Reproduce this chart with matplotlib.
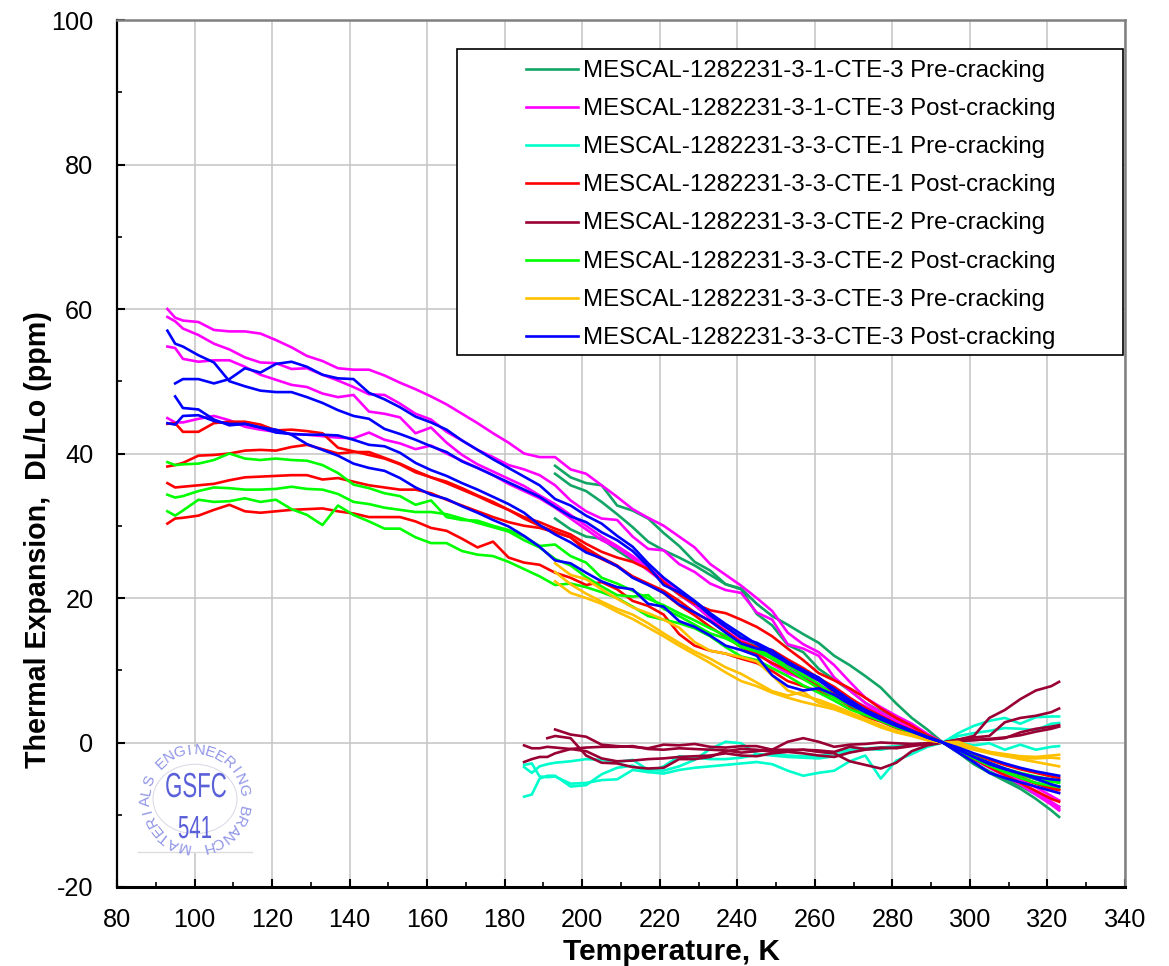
import numpy as np
import matplotlib
matplotlib.use('Agg')
import matplotlib.pyplot as plt
import matplotlib.patheffects as pe
from matplotlib.patches import Rectangle, Circle
from matplotlib.lines import Line2D
from matplotlib.transforms import Affine2D

plt.rcParams['font.family'] = ['Liberation Sans', 'DejaVu Sans']
plt.rcParams['axes.unicode_minus'] = False
nan = np.nan

# temperature grids, K
T_POST = [93, 95, 97, 101, 105, 109, 113, 117, 121, 125, 129,
          133, 137, 141, 145, 149, 153, 157, 161, 165, 169,
          173, 177, 181, 185, 189, 193, 197, 201, 205, 209,
          213, 217, 221, 225, 229, 233, 237, 241, 245, 249,
          253, 257, 261, 265, 269, 273, 277, 281, 285, 289,
          293, 297, 301, 305, 309, 313, 317, 321, 323]
T_PRE = [193, 197, 201, 205, 209,
         213, 217, 221, 225, 229, 233, 237, 241, 245, 249,
         253, 257, 261, 265, 269, 273, 277, 281, 285, 289,
         293, 297, 301, 305, 309, 313, 317, 321, 323]
T_LOW = [185, 187, 189, 191] + T_PRE

# MESCAL-1282231-3-1-CTE-3 pre-cracking
dkgreen_1 = [38.3, 36.7, 35.9, 35.6, 32.8,
             32.1, 31, 29, 27.2, 25, 23.8, 21.9, 21.2, 17.8, 16.2,
             13.5, 12.5, 10.2, 8.7, 7.2, 5.5, 4.3, 3.2, 2.1, 1,
             0, -1.3, -2.8, -4, -5, -6, -7.2, -8.4, -8.9]
dkgreen_2 = [37.2, 35.6, 34.8, 33.3, 31.6,
             29.8, 27.8, 26.6, 25.6, 24.5, 23.2, 21.9, 21.3, 19.2, 17.5,
             16.3, 15, 13.8, 12, 10.7, 9.2, 7.6, 5.4, 3.4, 1.8,
             0, -1.4, -3, -4.2, -5.3, -6.4, -7.8, -9.4, -10.3]
dkgreen_3 = [31, 29.5, 28.5, 28.2, 26.6,
             25.2, 24.2, 22, 20.5, 19, 17.2, 16, 14.6, 13.2, 11.8,
             10.4, 9.2, 7.9, 6.6, 5.4, 4.2, 3.2, 2.3, 1.5, 0.7,
             0, -1, -2, -2.9, -3.7, -4.4, -5.1, -5.8, -6.1]

# MESCAL-1282231-3-1-CTE-3 post-cracking
magenta_1 = [60.0, 58.8, 58.4, 58.2, 57.1, 56.9, 56.9, 56.6, 55.7, 54.7, 53.5,
             52.8, 51.8, 51.6, 51.6, 50.8, 49.8, 48.9, 47.9, 46.8, 45.5,
             44.2, 42.8, 41.5, 40.0, 39.5, 39.5, 37.8, 37.2, 35.6, 34.0,
             32.3, 31.1, 30.0, 28.5, 27.0, 24.7, 23.2, 21.7, 20.0, 18.2,
             15.2, 13.6, 12.5, 10.7, 8.4, 6.2, 4.9, 3.7, 2.6, 1.2,
             0, -0.9, -2.0, -3.0, -4.2, -5.5, -7.0, -8.4, -9.2]
magenta_2 = [58.9, 58.3, 57.3, 56.4, 55.2, 54.4, 53.3, 52.6, 52.5, 51.7, 51.8,
             50.9, 50.1, 49.2, 48.2, 48.1, 46.9, 45.5, 44.7, 43.0, 41.8,
             40.5, 39.5, 38.4, 37.8, 37.0, 35.6, 33.5, 32.0, 31.0, 30.8,
             28.5, 26.8, 26.6, 24.7, 23.6, 22.0, 21.1, 20.7, 18.0, 17.0,
             13.6, 13.0, 12.0, 9.0, 7.2, 5.5, 4.2, 3.0, 2.0, 0.9,
             0, -1.1, -2.3, -3.5, -4.6, -5.8, -7.2, -8.6, -9.4]
magenta_3 = [54.8, 54.6, 53.1, 52.7, 52.9, 52.9, 52.0, 50.9, 50.2, 49.5, 49.2,
             48.3, 47.8, 48.1, 45.8, 45.5, 45.0, 42.8, 43.6, 41.5, 39.8,
             38.5, 37.5, 36.5, 35.5, 34.2, 33.0, 31.5, 30.0, 28.5, 27.2,
             25.8, 24.2, 22.5, 21.0, 19.5, 17.8, 16.0, 14.3, 13.0, 11.5,
             10.3, 9.5, 8.6, 7.3, 6.0, 5.0, 4.0, 2.9, 1.9, 0.9,
             0, -1.0, -2.2, -3.3, -4.4, -5.6, -6.9, -8.2, -8.9]
magenta_4 = [44.9, 44.3, 44.3, 44.8, 45.2, 44.6, 43.7, 43.3, 43.0, 42.7, 42.6,
             42.4, 42.2, 42.1, 42.9, 41.9, 41.4, 40.6, 41.1, 40.0, 39.0,
             38.0, 37.0, 35.8, 34.8, 33.8, 32.5, 31.0, 29.5, 28.0, 27.0,
             25.5, 23.8, 22.2, 20.5, 19.0, 17.2, 15.5, 13.8, 12.5, 10.8,
             9.6, 8.8, 8.0, 6.9, 5.7, 4.6, 3.6, 2.6, 1.7, 0.8,
             0, -0.9, -2.0, -3.0, -4.0, -5.1, -6.2, -7.4, -8.0]

# MESCAL-1282231-3-3-CTE-1 pre-cracking
cyan_1 = [-7.5, -7.2, -5, -4.6, -4.6, -6.1, -5.9, -4.4, -3.5,
          -3.2, -4.1, -4.3, -3.8, -3.5, -3.3, -3.1, -2.9, -2.7, -3.0,
          -3.9, -4.6, -4.2, -3.9, -2.6, -1.8, -5, -2.5, -1.6, -0.6,
          0, 1.3, 2.3, 3, 3.4, 2.6, 3.5, 3.6, 3.6]
cyan_2 = [-3.4, -4.2, -3.3, -3, -2.8, -2.6, -2.3, -2.4, -2.7,
          -2.4, -3.8, -3.9, -3.3, -2.4, -0.9, 0.1, -0.1, -1.6, -1.8,
          -2, -2.1, -2.2, -1.9, -1.2, -0.9, -1, -0.6, -0.4, -0.1,
          0, 0.9, 1.3, 1.6, 2, 1.9, 1.7, 2.6, 2.7]
cyan_3 = [-3.1, -2.9, -4.7, -4.8, -4.7, -5.7, -5.6, -5.2, -5.1,
          -3.8, -4.1, -3.3, -1.9, -2.1, -2.3, -2.3, -2.1, -1.7, -1.6,
          -1.8, -1.9, -1.9, -1.4, -1, -0.8, -0.7, -0.5, -0.3, -0.1,
          0, 0, -0.4, -0.1, -1, -0.3, -1, -0.6, -0.5]

# MESCAL-1282231-3-3-CTE-1 post-cracking
red_1 = [44.1, 44.2, 43.0, 43.0, 44.2, 44.4, 44.4, 44.0, 43.2, 43.3, 43.1,
         42.8, 40.8, 40.3, 39.8, 39.3, 38.5, 37.4, 36.7, 36.1, 35.2,
         34.2, 33.3, 32.2, 31.2, 30.5, 29.6, 28.8, 27.5, 26.4, 25.6,
         25, 24, 22.2, 20.5, 19.2, 18.3, 17.9, 17, 16, 14.7,
         13, 11.4, 9.6, 8.6, 7.5, 6.2, 4.7, 3.4, 2.3, 1,
         0, -1, -2.1, -3.1, -4, -4.9, -5.7, -6.4, -6.6]
red_2 = [38.2, 38.4, 38.7, 39.7, 39.8, 40, 40.4, 40.5, 40.4, 40.9, 41.2,
         40.6, 40, 40.2, 40.2, 39.4, 38.6, 37.6, 36.7, 35.9, 35,
         34.1, 33.1, 32.2, 31, 30, 29.2, 28.4, 26.5, 25.4, 24.4,
         23, 22, 21, 19.6, 18, 16.8, 15.4, 13.9, 13.2, 12.8,
         11.5, 10.3, 8.9, 7.7, 6.2, 4.8, 3.7, 2.6, 1.7, 0.8,
         0, -1.2, -2.3, -3.4, -4.5, -5.6, -6.7, -7.8, -8.2]
red_3 = [35.9, 35.3, 35.4, 35.6, 35.8, 36.3, 36.7, 36.8, 36.9, 37.0, 37.0,
         36.4, 36.6, 36.1, 35.6, 35.3, 35, 35, 34.5, 33.6, 32.8,
         32, 31.2, 30.5, 30, 29.7, 29.1, 28.4, 26.9, 25.6, 24.5,
         22.9, 21.9, 20.7, 19, 17.6, 16, 14.6, 13.2, 12.2, 11,
         10, 8.8, 7.8, 6.9, 5.8, 4.6, 3.6, 2.5, 1.6, 0.7,
         0, -0.8, -1.7, -2.4, -3.1, -3.7, -4.2, -4.7, -4.9]
red_4 = [30.3, 31, 31.1, 31.4, 32.2, 32.9, 32, 31.8, 32, 32.2, 32.3,
         32.4, 32, 31.7, 31.2, 31.2, 31.2, 30.6, 29.7, 29.3, 28.2,
         27, 27.8, 25.6, 24.9, 24.6, 23.5, 22.8, 21.8, 22.2, 21.2,
         19.6, 18.9, 17.7, 15, 13.4, 12.7, 12.3, 11.6, 11, 9.9,
         8.5, 7.8, 7.1, 6.3, 5, 3.6, 2.9, 2, 1.3, 0.6,
         0, -1, -2, -3, -3.9, -4.8, -5.6, -6.2, -6.5]

# MESCAL-1282231-3-3-CTE-2 pre-cracking
dkred_1 = [nan, nan, nan, nan, 1.8, 1.1, 0.8, -0.3, -0.5,
           -0.6, -0.8, -0.3, -0.4, -0.2, -0.6, -0.7, -0.5, -0.5, -1,
           0.1, 0.6, 0.1, -0.6, -0.3, -0.2, 0, -0.1, -0.2, -0.1,
           0, 0.4, 0.9, 3.4, 4.5, 6, 7.2, 7.8, 8.4]
dkred_2 = [nan, nan, nan, 0.6, 0.9, 0.6, -1.8, -2.8, -2.9,
           -3.4, -3.6, -3.5, -2.3, -2.3, -2, -1.2, -0.9, -1, -1.3,
           -1.2, -1, -1.3, -1.5, -2.6, -3.1, -3.6, -2.8, -1.2, -0.4,
           0, 0.4, 0.7, 0.9, 2.8, 3.4, 3.7, 4.2, 4.7]
dkred_3 = [-0.4, -0.8, -0.8, -0.6, -0.7, -0.9, -0.7, -0.6, -0.6,
           -0.5, -0.9, -1, -0.8, -0.9, -1, -1.1, -1.4, -1.2, -1,
           -1, -1, -1.1, -1.3, -0.6, -0.9, -0.7, -0.8, -0.5, -0.2,
           0, 0.3, 0.4, 0.4, 0.6, 1.4, 1.9, 2.2, 2.4]
dkred_4 = [-2.7, -2.3, -2, -2, -1.5, -0.9, -1.2, -2.2, -2.6,
           -2.5, -2.3, -2.2, -2, -1.9, -1.8, -1.5, -1.8, -1.9, -1.5,
           -1.3, -1.5, -1.8, -2, -1.4, -1, -0.8, -0.7, -0.4, -0.2,
           0, 0.2, 0.3, 0.5, 0.7, 1, 1.5, 1.9, 2.2]

# MESCAL-1282231-3-3-CTE-2 post-cracking
green_1 = [38.8, 38.4, 38.5, 38.6, 39.1, 40.0, 39.3, 39.1, 39.3, 39.1, 39.0,
           38.4, 37.3, 35.7, 35.2, 34.5, 34.1, 32.9, 33.5, 31.2, 30.8,
           30.7, 30, 29.4, 28.5, 27.2, 27.4, 25.8, 24.9, 22.8, 22,
           21, 19.9, 19, 17.9, 16.9, 15.8, 14.8, 13.2, 12.6, 11.6,
           10.2, 8.8, 7.5, 6.2, 5.2, 4.1, 3.2, 2.3, 1.5, 0.7,
           0, -1, -2.1, -3, -3.8, -4.5, -5, -5.4, -5.6]
green_2 = [34.3, 33.9, 34.1, 34.8, 35.3, 35.2, 35, 35, 35.1, 35.4, 35.1,
           35, 34.4, 33.3, 33, 32.5, 32.2, 31.9, 31.9, 31.6, 31,
           30.4, 29.8, 29.2, 28, 27, 25.4, 24.5, 22.9, 21.6, 20.4,
           20.2, 20.4, 18.5, 17.5, 16.3, 15.1, 14.4, 13.4, 13, 11.8,
           10.7, 9.4, 8.1, 6.5, 5.4, 4.3, 3.3, 2.4, 1.6, 0.8,
           0, -1.1, -2.2, -3.2, -4.1, -4.9, -5.6, -6, -6.2]
green_3 = [32, 31.4, 32.1, 33.6, 33.3, 33.4, 33.8, 33.3, 33.6, 32.3, 31.5,
           30.1, 32.8, 31.5, 30.6, 29.6, 29.6, 28.4, 27.6, 27.6, 26.5,
           26, 25.8, 25, 24, 23, 21.8, 22, 21.5, 20.8, 20,
           18.8, 17.5, 17, 16.5, 15.8, 14.7, 13.2, 11.9, 11.4, 10.3,
           9.2, 7.9, 6.9, 5.8, 4.6, 3.8, 3, 2.1, 1.4, 0.6,
           0, -0.9, -1.9, -2.8, -3.6, -4.2, -4.7, -5.1, -5.3]

# MESCAL-1282231-3-3-CTE-3 pre-cracking
orange_1 = [24.8, 23.2, 22.6, 21.2, 19.9,
            18.7, 17.9, 17, 15.9, 13.9, 12.7, 12.3, 11.8, 11.2, 9.3,
            7.2, 6.5, 5.9, 5.1, 4.2, 3.3, 2.4, 1.6, 1.1, 0.4,
            0, -0.3, -0.8, -1.3, -1.6, -1.9, -2, -1.8, -1.7]
orange_2 = [23.6, 21.9, 20.6, 19.5, 18.5,
            17.7, 16.5, 15.1, 13.8, 12.6, 11.6, 10.4, 9.5, 8.3, 7.1,
            6.5, 7, 5.5, 4.9, 4, 3.1, 2.3, 1.5, 1, 0.4,
            0, -0.5, -1, -1.5, -1.9, -2.2, -2.2, -2.1, -2.2]
orange_3 = [22.3, 20.7, 20, 19.2, 18.1,
            17.1, 15.9, 14.7, 13.4, 12.2, 11, 9.7, 8.5, 7.8, 6.9,
            6.2, 5.6, 5.1, 4.6, 3.8, 3, 2.1, 1.4, 0.9, 0.3,
            0, 0.1, -0.7, -1.3, -1.8, -2.3, -2.7, -3.1, -3.3]

# MESCAL-1282231-3-3-CTE-3 post-cracking
blue_1 = [57.0, 55.2, 54.8, 53.6, 52.6, 50, 49.3, 48.7, 48.5, 48.5, 47.8,
          47, 46, 45.2, 44.8, 43.4, 42.7, 41.9, 41, 40.2, 38.9,
          38, 37, 36, 35, 34, 32.6, 31.3, 30.5, 29.1, 28,
          26.5, 24.4, 21.8, 20.8, 19.5, 17.6, 16, 14.5, 13.8, 12.7,
          11.2, 10, 9, 7.3, 5.6, 4.3, 3.3, 2.4, 1.6, 0.7,
          0, -0.7, -1.5, -2.2, -2.9, -3.5, -4, -4.4, -4.6]
blue_2 = [nan, 49.7, 50.3, 50.3, 49.7, 50.3, 51.8, 51.2, 52.4, 52.7, 52,
          50.9, 50.4, 50.3, 48.4, 47.5, 46.4, 45.1, 44.3, 43.3, 41.8,
          40.5, 39.2, 38, 36.8, 35.6, 33.7, 32.8, 31.4, 30.3, 28.6,
          27.1, 24.8, 22.8, 21.2, 19.6, 17.9, 16.4, 15, 13.6, 12.2,
          11, 10, 8.8, 7.4, 5.9, 4.5, 3.5, 2.5, 1.6, 0.8,
          0, -1, -2, -2.8, -3.6, -4.3, -4.8, -5.1, -5.2]
blue_3 = [nan, 47.9, 46.3, 46.1, 44.7, 43.9, 44.1, 43.6, 43.3, 42.6, 41.3,
          40.5, 39.7, 38.6, 38, 37.6, 36.6, 35.3, 34.3, 33.7, 32.7,
          31.8, 30.8, 29.9, 28.6, 27.1, 25.2, 24.8, 23.5, 22.3, 21.5,
          21.2, 19.2, 18.8, 16.8, 16, 14.8, 13.4, 12.8, 12, 9.3,
          7.8, 7.2, 7.5, 6.6, 5.3, 4.2, 3.2, 2.3, 1.5, 0.7,
          0, -1.4, -2.7, -4.2, -4.9, -5.5, -6.1, -6.7, -7]
blue_4 = [44.2, 44.0, 45.2, 45.3, 44.5, 44.1, 44.1, 43.6, 42.9, 42.7, 42.6,
          42.6, 42.5, 41.9, 41.2, 41, 40.1, 38.7, 37.7, 36.9, 35.9,
          35, 34, 33, 31.8, 30.1, 28.8, 27.7, 26.3, 25.5, 24.4,
          22.8, 21.8, 20.7, 19.1, 18, 16.8, 15.2, 13.7, 13, 12.6,
          10.9, 9.8, 8.6, 7.1, 5.6, 4.5, 3.5, 2.5, 1.6, 0.7,
          0, -1, -2, -3, -3.7, -4.3, -5, -5.8, -6.1]

# legend order, same order the lines are drawn in
groups = [
    ('MESCAL-1282231-3-1-CTE-3 Pre-cracking', '#12A565', T_PRE, [dkgreen_1, dkgreen_2, dkgreen_3]),
    ('MESCAL-1282231-3-1-CTE-3 Post-cracking', '#FF00FF', T_POST, [magenta_1, magenta_2, magenta_3, magenta_4]),
    ('MESCAL-1282231-3-3-CTE-1 Pre-cracking', '#00FFCC', T_LOW, [cyan_1, cyan_2, cyan_3]),
    ('MESCAL-1282231-3-3-CTE-1 Post-cracking', '#FF0000', T_POST, [red_1, red_2, red_3, red_4]),
    ('MESCAL-1282231-3-3-CTE-2 Pre-cracking', '#990033', T_LOW, [dkred_1, dkred_2, dkred_3, dkred_4]),
    ('MESCAL-1282231-3-3-CTE-2 Post-cracking', '#00FF00', T_POST, [green_1, green_2, green_3]),
    ('MESCAL-1282231-3-3-CTE-3 Pre-cracking', '#FFC000', T_PRE, [orange_1, orange_2, orange_3]),
    ('MESCAL-1282231-3-3-CTE-3 Post-cracking', '#0000FF', T_POST, [blue_1, blue_2, blue_3, blue_4]),
]

W, H = 1169, 966
fig = plt.figure(figsize=(W / 100, H / 100), dpi=100)
ax = fig.add_axes([117 / W, 1 - 887 / H, (1125 - 117) / W, (887 - 20) / H])

for label, color, temps, curves in groups:
    for y in curves:
        ax.plot(temps, y, color=color, lw=1.9, solid_joinstyle='round', zorder=3)

ax.set_xlim(80, 340)
ax.set_ylim(-20, 100)
ax.set_xticks(np.arange(80, 341, 20))
ax.set_xticks(np.arange(90, 340, 20), minor=True)
ax.set_yticks(np.arange(-20, 101, 20))
ax.set_yticks(np.arange(-10, 100, 20), minor=True)
ax.grid(True, which='major', color='#c4c4c4', lw=1.1, zorder=1)
ax.set_axisbelow(True)
ax.tick_params(which='major', length=6, width=1.5, direction='in', labelsize=18.2)
ax.tick_params(which='minor', length=3.8, width=1.2, direction='in')
ax.tick_params(axis='x', which='major', pad=15)
ax.tick_params(axis='y', which='major', pad=17)
ax.spines['left'].set_linewidth(1.6)
ax.spines['bottom'].set_linewidth(2.2)
ax.spines['top'].set_color('#808080')
ax.spines['right'].set_color('#808080')
ax.spines['top'].set_linewidth(1.8)
ax.spines['right'].set_linewidth(1.8)
ax.set_xlabel('Temperature, K', fontsize=21.5, fontweight='bold', va='center')
ax.set_ylabel('Thermal Expansion,  DL/Lo (ppm)', fontsize=20.6, fontweight='bold', va='center')
ax.xaxis.set_label_coords((671 - 117) / 1008, (887 - 952) / 867)
ax.yaxis.set_label_coords((38 - 117) / 1008, (887 - 540) / 867)


def px(x, y):
    return x / W, 1 - y / H


# legend box drawn by hand, the frame is much wider than its contents
x0, y0 = px(457, 355)
x1, y1 = px(1123, 49)
fig.add_artist(Rectangle((x0, y0), x1 - x0, y1 - y0, transform=fig.transFigure,
                         facecolor='white', edgecolor='black', lw=1.2, zorder=5))
for i, (label, color, temps, curves) in enumerate(groups):
    row = 68.5 + i * 38.25
    xa, ya = px(526, row)
    xb, _ = px(578, row)
    fig.add_artist(Line2D([xa, xb], [ya, ya], transform=fig.transFigure, color=color, lw=1.9, zorder=6))
    xt, yt = px(583, row + 2)
    fig.text(xt, yt, label, fontsize=17.25, va='center', ha='left', zorder=6)


class Narrow(pe.AbstractPathEffect):
    # squeeze text sideways around a pixel column, the stamp letters are condensed
    def __init__(self, sx, xc):
        super().__init__()
        self.sx = sx
        self.xc = xc

    def draw_path(self, renderer, gc, tpath, affine, rgbFace=None):
        squeeze = Affine2D().translate(-self.xc, 0).scale(self.sx, 1).translate(self.xc, 0)
        renderer.draw_path(gc, tpath, affine + squeeze, rgbFace)


# GSFC stamp
bx0, by0 = px(138, 852)
bx1, by1 = px(252, 747)
fig.add_artist(Rectangle((bx0, by0), bx1 - bx0, by1 - by0, transform=fig.transFigure,
                         facecolor='white', edgecolor='none', zorder=2))
fig.add_artist(Line2D([bx0, bx1], [by0, by0], transform=fig.transFigure, color='#dddddd', lw=1, zorder=2))
cx, cy = 195, 799
stamp = '#5a60d8'
ring = '#8f94e6'
fig.add_artist(Circle(px(cx, cy), 42 / W, transform=fig.transFigure, fill=False,
                      edgecolor='#dcdce8', lw=0.8, zorder=2))
lx, ly = px(196, 797)
t = fig.text(lx, ly, 'GSFC', fontsize=25, color=stamp, ha='center', va='baseline', zorder=4)
t.set_path_effects([Narrow(0.64, 196)])
lx, ly = px(195, 838)
t = fig.text(lx, ly, '541', fontsize=23, color=stamp, ha='center', va='baseline', zorder=4)
t.set_path_effects([Narrow(0.64, 195)])

ring_text = 'MATERIALS ENGINEERING BRANCH'
angles = np.linspace(256, -75, len(ring_text))
for ch, a in zip(ring_text, angles):
    r = 49
    xp = cx + r * np.cos(np.radians(a))
    yp = cy - r * np.sin(np.radians(a))
    xf, yf = px(xp, yp)
    fig.text(xf, yf, ch, fontsize=11, color=ring, rotation=a - 90,
             rotation_mode='anchor', ha='center', va='center', zorder=4)

fig.savefig('out.png', dpi=100)
